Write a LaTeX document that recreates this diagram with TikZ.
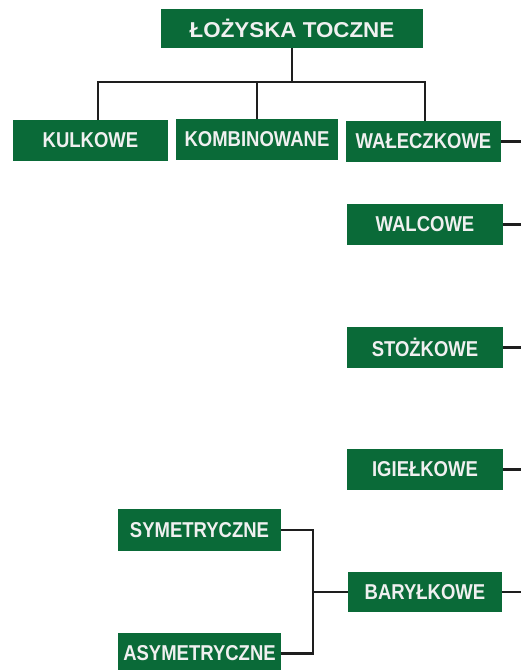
\documentclass[tikz,border=0pt]{standalone}
\usepackage{fontspec}
\newfontfamily\boxfont[FakeStretch=0.86]{Liberation Sans}
\newfontfamily\titlefont[FakeStretch=1.04]{Liberation Sans}
\definecolor{bearinggreen}{RGB}{10,106,56}
\definecolor{linkgray}{RGB}{30,30,30}
\usetikzlibrary{positioning,calc}

\begin{document}
\begin{tikzpicture}[
    x=1pt, y=-1pt,
    kind/.style={rectangle, minimum width=155pt, minimum height=41pt, inner sep=0pt, text centered, fill=bearinggreen, text=white!94!black, font={\boxfont\bfseries\fontsize{21.5}{25}\selectfont}},
    link/.style={draw=linkgray, line width=2.8pt}
]
    \useasboundingbox (0,0) rectangle (521,670);

    \node[kind, minimum width=262pt, minimum height=39pt, font={\titlefont\bfseries\fontsize{21.5}{25}\selectfont}] (root) at (292,28.5) {ŁOŻYSKA TOCZNE};

    \node[kind] (kulkowe) at (90.5,140.5) {KULKOWE};
    \node[kind, minimum width=162pt] (kombinowane) at (257,139.5) {KOMBINOWANE};
    \node[kind] (waleczkowe) at (423.5,141.5) {WAŁECZKOWE};

    \node[kind, minimum width=156pt] (walcowe) at (425,224.5) {WALCOWE};
    \node[kind, minimum width=156pt] (stozkowe) at (425,347.5) {STOŻKOWE};
    \node[kind, minimum width=156pt] (igielkowe) at (425,469.5) {IGIEŁKOWE};
    \node[kind, minimum width=154pt, minimum height=40pt] (barylkowe) at (425,592) {BARYŁKOWE};

    \node[kind, minimum width=163pt, minimum height=42pt] (sym) at (199.5,530) {SYMETRYCZNE};
    \node[kind, minimum width=163pt] (asym) at (199.5,653.5) {ASYMETRYCZNE};

    \coordinate (bus) at (292,82);
    \coordinate (edge) at (521,0);
    \coordinate (joint) at (313,592);

    \draw[link] (root.south) -- (bus);
    \draw[link] ([xshift=7.5pt]kulkowe.north) |- (bus) -| ([xshift=1.5pt]waleczkowe.north);
    \draw[link] (kombinowane.north) -- (kombinowane.north |- bus);

    \draw[link] (waleczkowe.east) -- (waleczkowe.east -| edge);
    \draw[link] (walcowe.east) -- (walcowe.east -| edge);
    \draw[link] (stozkowe.east) -- (stozkowe.east -| edge);
    \draw[link] (igielkowe.east) -- (igielkowe.east -| edge);
    \draw[link] (barylkowe.east) -- (barylkowe.east -| edge);

    \draw[link] (sym.east) -| (joint) |- (asym.east);
    \draw[link] (joint) -- (barylkowe.west);
\end{tikzpicture}
\end{document}
